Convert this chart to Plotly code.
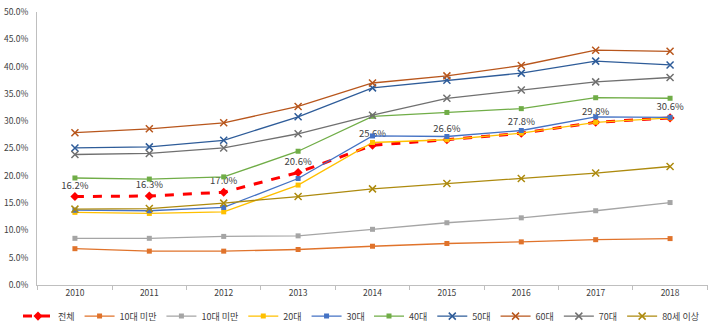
import plotly.graph_objects as go

years = ["2010", "2011", "2012", "2013", "2014", "2015", "2016", "2017", "2018"]

total = [16.2, 16.3, 17.0, 20.6, 25.6, 26.6, 27.8, 29.8, 30.6]
under10_a = [6.65, 6.2, 6.2, 6.5, 7.1, 7.6, 7.9, 8.3, 8.5]
under10_b = [8.55, 8.55, 8.9, 9.0, 10.2, 11.4, 12.3, 13.6, 15.1]
age20 = [13.3, 13.1, 13.4, 18.3, 26.1, 26.6, 27.8, 29.8, 30.6]
age30 = [13.7, 13.6, 14.2, 19.5, 27.3, 27.2, 28.3, 30.8, 30.7]
age40 = [19.6, 19.4, 19.8, 24.5, 30.9, 31.6, 32.3, 34.3, 34.2]
age50 = [25.1, 25.3, 26.5, 30.8, 36.1, 37.5, 38.8, 41.0, 40.3]
age60 = [27.9, 28.6, 29.7, 32.7, 37.0, 38.3, 40.2, 43.0, 42.8]
age70 = [23.9, 24.1, 25.1, 27.7, 31.1, 34.2, 35.7, 37.2, 38.0]
age80 = [13.9, 14.0, 15.0, 16.2, 17.6, 18.6, 19.5, 20.5, 21.7]

total_labels = [f"{v:.1f}%" for v in total]

FONT = "Noto Sans CJK KR, Malgun Gothic, sans-serif"

fig = go.Figure()

def add(name, vals, color, symbol, msize, legend="legend", width=1.3):
    fig.add_trace(go.Scatter(
        x=years, y=vals, name=name, mode="lines+markers", legend=legend,
        line=dict(color=color, width=width),
        marker=dict(color=color, symbol=symbol, size=msize,
                    line=dict(color=color, width=1.5 if "x" in symbol else 0)),
    ))

fig.add_trace(go.Scatter(
    x=years, y=total, name="전체", mode="lines+markers+text", legend="legend",
    line=dict(color="#FF0000", width=3, dash="dash"),
    marker=dict(color="#FF0000", symbol="diamond", size=7),
    text=total_labels, textposition="top center",
    textfont=dict(size=9.5, color="#404040", family=FONT),
))
add("10대 미만", under10_a, "#E0732B", "square", 5)
add("10대 미만", under10_b, "#A5A5A5", "square", 5)
add("20대", age20, "#FFC000", "square", 5)
add("30대", age30, "#4472C4", "square", 5)
add("40대", age40, "#70AD47", "square", 5, legend="legend2")
add("50대", age50, "#2E5C99", "x-thin", 7, legend="legend2")
add("60대", age60, "#B8561C", "x-thin", 7, legend="legend2")
add("70대", age70, "#707070", "x-thin", 7, legend="legend2")
add("80세 이상", age80, "#AD8A0E", "x-thin", 7, legend="legend2")

legend_common = dict(orientation="h", xref="container", yref="container",
                     y=0.045, yanchor="middle", xanchor="left",
                     font=dict(size=9, family=FONT, color="#404040"),
                     itemwidth=30, tracegroupgap=0, bgcolor="rgba(0,0,0,0)")

fig.update_layout(
    width=720, height=331,
    margin=dict(l=37, r=12, t=12, b=46),
    paper_bgcolor="white", plot_bgcolor="white",
    font=dict(family=FONT, size=9, color="#404040"),
    showlegend=True,
    legend=dict(legend_common, x=0.025),
    legend2=dict(legend_common, x=0.5125),
    xaxis=dict(type="category", showgrid=False, showline=True, linecolor="#BFBFBF",
               linewidth=1, ticks="outside", tickson="boundaries", ticklen=4,
               tickcolor="#BFBFBF", tickfont=dict(size=8.5, color="#404040"),
               zeroline=False, automargin=False),
    yaxis=dict(range=[0, 50], dtick=5, tickformat=".1f", ticksuffix="%",
               showgrid=False, showline=True, linecolor="#BFBFBF", linewidth=1,
               zeroline=False, tickfont=dict(size=8.5, color="#404040"), ticks="",
               ticklabelstandoff=6, automargin=False),
)

fig.write_html("out.html")
